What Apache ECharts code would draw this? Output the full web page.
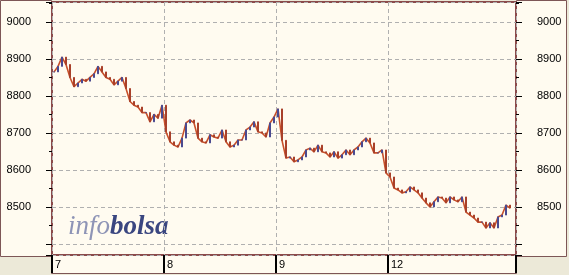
<!DOCTYPE html>
<html><head><meta charset="utf-8">
<script src="https://cdn.jsdelivr.net/npm/echarts@6/dist/echarts.min.js"></script>
<style>html,body{margin:0;padding:0;background:#ECE9D8;}#c{width:569px;height:275px;}</style>
</head><body><div id="c"></div>
<script>
// Tick labels of the day axis
const dayLabels = ['7', '8', '9', '12'];
// Intraday closes, one per ~4px slot
const day7  = [8865, 8880, 8905, 8885, 8850, 8825, 8835, 8845, 8840, 8850, 8860, 8880, 8865, 8850,
               8845, 8830, 8840, 8850, 8820, 8785, 8775, 8770, 8755, 8755, 8730, 8750, 8740, 8775];
const day8  = [8703, 8676, 8667, 8662, 8686, 8727, 8735, 8727, 8686, 8676, 8673, 8695, 8689, 8686,
               8708, 8676, 8662, 8667, 8681, 8681, 8708, 8716, 8730, 8703, 8700, 8689, 8727, 8743];
const day9  = [8765, 8680, 8632, 8635, 8622, 8627, 8635, 8654, 8659, 8649, 8667, 8649, 8646, 8635,
               8649, 8632, 8641, 8654, 8641, 8654, 8662, 8676, 8686, 8673, 8646, 8646, 8654, 8592];
const day12 = [8581, 8551, 8546, 8538, 8541, 8554, 8546, 8538, 8524, 8511, 8500, 8514, 8527, 8524,
               8511, 8527, 8519, 8514, 8527, 8486, 8478, 8470, 8459, 8459, 8443, 8457, 8443, 8473,
               8478, 8505, 8497];
const yMin = 8370, yMax = 9054;

const days = [day7, day8, day9, day12];
const categories = [];
const closes = [];
days.forEach((d, di) => d.forEach((v, k) => { categories.push(dayLabels[di] + '|' + k); closes.push(v); }));
categories.push('end|pad');
const ohlc = closes.map((c, i) => {
  const o = i ? closes[i - 1] : c;
  return [o, c, Math.min(o, c), Math.max(o, c)];
});

const CREAM = '#FFFBF0', BORDER = '#8B4B4B', PANEL = '#7D5656';
const isDayStart = (i, v) => typeof v === 'string' && v.endsWith('|0');
const labelFont = { fontFamily: 'Liberation Sans', fontSize: 11, color: '#000' };

const yAxisBase = {
  type: 'value', min: yMin, max: yMax, scale: true,
  axisLine: { show: false },
  axisTick: { show: true, length: 6, lineStyle: { color: '#000' } },
  minorTick: { show: true, splitNumber: 2, length: 3, lineStyle: { color: '#000' } },
  axisLabel: Object.assign({ margin: 21, formatter: v => (v % 100 === 0 && v >= 8500) ? String(v) : '' }, labelFont),
};

const chart = echarts.init(document.getElementById('c'), null, { renderer: 'canvas' });
chart.setOption({
  backgroundColor: '#ECE9D8',
  animation: false,
  graphic: [
    { type: 'rect', z: -20, silent: true, shape: { x: 0.5, y: 0.5, width: 51, height: 256 }, style: { fill: CREAM, stroke: PANEL, lineWidth: 1 } },
    { type: 'rect', z: -20, silent: true, shape: { x: 516.5, y: 0.5, width: 50, height: 256 }, style: { fill: CREAM, stroke: PANEL, lineWidth: 1 } },
    { type: 'rect', z: -20, silent: true, shape: { x: 51.5, y: 255.5, width: 465, height: 18 }, style: { fill: CREAM, stroke: PANEL, lineWidth: 1 } },
    { type: 'rect', z: -19, silent: true, shape: { x: 52, y: 2, width: 464, height: 253 }, style: { fill: CREAM } },
    { type: 'text', z: -5, silent: true, style: {
        x: 68, y: 227, verticalAlign: 'middle',
        text: '{a|info}{b|bolsa}',
        rich: {
          a: { fontFamily: 'Liberation Serif', fontStyle: 'italic', fontSize: 27, fill: '#8E94B6' },
          b: { fontFamily: 'Liberation Serif', fontStyle: 'italic', fontWeight: 'bold', fontSize: 27, fill: '#3A4680' }
        }
    } }
  ],
  grid: { left: 52, right: 53, top: 2, bottom: 20, show: true, backgroundColor: 'transparent', borderColor: BORDER, borderWidth: 2 },
  xAxis: {
    type: 'category', data: categories, boundaryGap: true,
    axisLine: { show: false },
    axisTick: { show: true, interval: isDayStart, length: 18, lineStyle: { color: '#000', width: 2 } },
    splitLine: { show: true, interval: isDayStart, lineStyle: { color: '#B0B0B0', type: [4, 3], width: 1 } },
    axisLabel: Object.assign({ interval: isDayStart, align: 'left', margin: 4, padding: [0, 0, 0, 1],
      formatter: v => v.split('|')[0] }, labelFont)
  },
  yAxis: [
    Object.assign({}, yAxisBase, { position: 'left',
      splitLine: { show: true, lineStyle: { color: '#B0B0B0', type: [4, 3], width: 1 } },
      axisLabel: Object.assign({}, yAxisBase.axisLabel, { align: 'right' }) }),
    Object.assign({}, yAxisBase, { position: 'right', splitLine: { show: false },
      axisLabel: Object.assign({}, yAxisBase.axisLabel, { align: 'left' }) })
  ],
  series: [
    { type: 'line', data: closes, symbol: 'none', z: 2, lineStyle: { color: '#C8502A', width: 1.6 } },
    { type: 'candlestick', data: ohlc, z: 3, barWidth: 2,
      itemStyle: { color: '#4A4A90', color0: '#B8442A', borderColor: '#4A4A90', borderColor0: '#A8402A', borderWidth: 1 } }
  ]
});
</script></body></html>
